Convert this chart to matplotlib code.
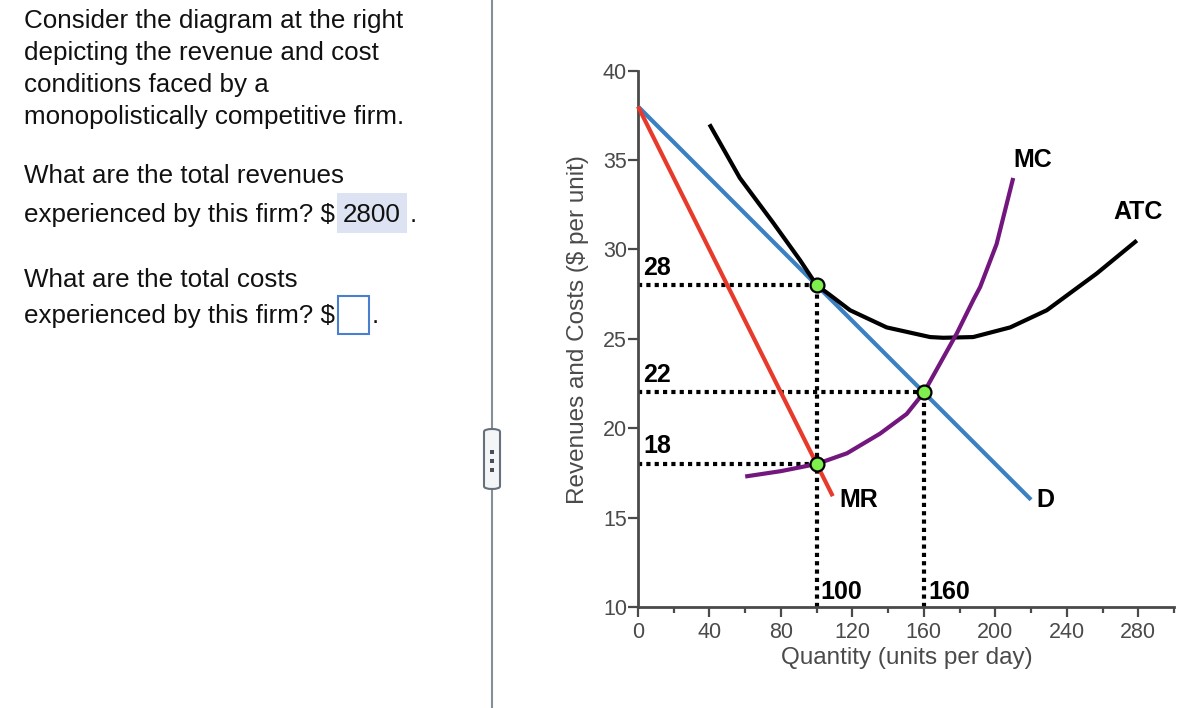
import matplotlib
matplotlib.use("Agg")
import matplotlib.pyplot as plt
from matplotlib.patches import FancyBboxPatch, Rectangle
from matplotlib.ticker import MultipleLocator
import numpy as np

plt.rcParams['font.family'] = ['Liberation Sans', 'DejaVu Sans']

# ---- data ----
demand_q = [0, 220]
demand_p = [38, 16]
mr_q = [0, 109]
mr_p = [38, 16.2]
atc_q = [40, 57, 75.6, 90.7, 100, 107.5, 118.7, 139.2, 163.5, 170.8, 187.6, 208.3, 228.8, 256.8, 279.2]
atc_p = [37.0, 34.0, 31.5, 29.4, 28.0, 27.45, 26.6, 25.64, 25.1, 25.06, 25.1, 25.64, 26.6, 28.66, 30.5]
mc_q = [60, 80, 100, 117, 135.5, 150.4, 160, 178.4, 187.8, 191.5, 200.7, 210]
mc_p = [17.3, 17.6, 18.0, 18.6, 19.7, 20.8, 22.0, 25.3, 27.2, 27.9, 30.3, 34.0]
key_q = [100, 100, 160]
key_p = [28, 18, 22]
price_labels = ["28", "22", "18"]
price_vals = [28, 22, 18]
price_ends = [100, 160, 100]
qty_labels = ["100", "160"]
qty_vals = [100, 160]
qty_tops = [28, 22]
x_ticks = [0, 40, 80, 120, 160, 200, 240, 280]
y_ticks = [10, 15, 20, 25, 30, 35, 40]

W, H = 1198, 708
fig = plt.figure(figsize=(W / 100, H / 100), dpi=100)
fig.patch.set_facecolor('white')

def fx(x):
    return x / W

def fy(y):
    return 1 - y / H

ax = fig.add_axes([638 / W, 1 - 607 / H, (1174 - 638) / W, (607 - 70.7) / H])
ax.set_xlim(0, 300)
ax.set_ylim(10, 40)
for s in ['top', 'right']:
    ax.spines[s].set_visible(False)
axis_col = '#4a4a4a'
for s in ['left', 'bottom']:
    ax.spines[s].set_color(axis_col)
    ax.spines[s].set_linewidth(2)
ax.set_xticks(x_ticks)
ax.xaxis.set_minor_locator(MultipleLocator(20))
ax.set_yticks(y_ticks)
tick_fs = 15.5
ax.tick_params(axis='x', which='major', length=7.5, width=1.6, color=axis_col,
               labelcolor='#4a4a4a', labelsize=tick_fs, pad=3)
ax.tick_params(axis='x', which='minor', length=4.5, width=1.6, color=axis_col)
ax.tick_params(axis='y', which='major', length=7, width=1.6, color=axis_col,
               labelcolor='#4a4a4a', labelsize=tick_fs, pad=1)

label_fs = 17.5
fig.text(fx(907), fy(664), 'Quantity (units per day)', fontsize=label_fs, color='#4a4a4a',
         ha='center', va='baseline')
fig.text(fx(578), fy(330), 'Revenues and Costs ($ per unit)', fontsize=label_fs, color='#4a4a4a',
         ha='center', va='center', rotation=90)

dot_style = dict(color='black', lw=3, linestyle=(0, (1, 1)), zorder=2, clip_on=False)
for v, e in zip(price_vals, price_ends):
    ax.plot([0, e], [v, v], **dot_style)
for q, t in zip(qty_vals, qty_tops):
    ax.plot([q, q], [10, t], **dot_style)

ax.plot(demand_q, demand_p, color='#3a80c3', lw=3, zorder=3, clip_on=False, solid_capstyle='butt')
ax.plot(mr_q, mr_p, color='#e83a2a', lw=3, zorder=3, clip_on=False, solid_capstyle='butt')
ax.plot(atc_q, atc_p, color='black', lw=3, zorder=4, clip_on=False, solid_capstyle='butt')
ax.plot(mc_q, mc_p, color='#73177f', lw=3, zorder=4, clip_on=False, solid_capstyle='butt')
ax.plot(key_q, key_p, 'o', ms=10, mfc='#7ef04e', mec='black', mew=1.6, zorder=6, clip_on=False)

bold = dict(fontsize=18, fontweight='bold', color='black')
for lab, v in zip(price_labels, price_vals):
    ax.annotate(lab, (0, v), xytext=(4, 4), textcoords='offset points', ha='left', va='bottom', **bold)
for lab, q in zip(qty_labels, qty_vals):
    ax.annotate(lab, (q, 10), xytext=(3, 2), textcoords='offset points', ha='left', va='bottom', **bold)
fig.text(fx(839), fy(507), 'MR', ha='left', va='baseline', **bold)
fig.text(fx(1036), fy(507), 'D', ha='left', va='baseline', **bold)
fig.text(fx(1013), fy(167), 'MC', ha='left', va='baseline', **bold)
fig.text(fx(1113), fy(219), 'ATC', ha='left', va='baseline', **bold)

# ---- left question panel ----
tfs = 18.7
lines = [
    (28, "Consider the diagram at the right"),
    (60, "depicting the revenue and cost"),
    (92, "conditions faced by a"),
    (124, "monopolistically competitive firm."),
    (183, "What are the total revenues"),
    (222, "experienced by this firm? $"),
    (287, "What are the total costs"),
    (323, "experienced by this firm? $"),
]
for y, t in lines:
    fig.text(fx(24), fy(y), t, fontsize=tfs, color='#111111', ha='left', va='baseline')

fig.patches.append(Rectangle((fx(337), fy(233)), (407 - 337) / W, (233 - 193) / H,
                             transform=fig.transFigure, facecolor='#dde3f3', edgecolor='none', zorder=0))
fig.text(fx(343), fy(222), '2800', fontsize=tfs, color='#111111', ha='left', va='baseline')
fig.text(fx(410), fy(222), '.', fontsize=tfs, color='#111111', ha='left', va='baseline')
fig.patches.append(Rectangle((fx(338), fy(334)), (369 - 338) / W, (334 - 296) / H,
                             transform=fig.transFigure, facecolor='white', edgecolor='#4a7fd0',
                             linewidth=1.5, zorder=1))
fig.text(fx(372), fy(323), '.', fontsize=tfs, color='#111111', ha='left', va='baseline')

# divider and handle
fig.add_artist(plt.Line2D([fx(492), fx(492)], [0, 1], transform=fig.transFigure,
                          color='#868e9a', lw=1.5, zorder=1))
fig.patches.append(FancyBboxPatch((fx(484), fy(489)), (500 - 484) / W, (489 - 429) / H,
                                  boxstyle='round,pad=0,rounding_size=0.0068',
                                  transform=fig.transFigure, facecolor='#f4f5f7',
                                  edgecolor='#66707c', linewidth=1.5, zorder=2,
                                  mutation_aspect=H / W))
for yy in [452, 461, 470]:
    fig.patches.append(Rectangle((fx(489.5), fy(yy + 2)), 4 / W, 4 / H, transform=fig.transFigure,
                                 facecolor='#4a4f57', edgecolor='none', zorder=3))

fig.savefig('out.png', dpi=100, facecolor='white')
